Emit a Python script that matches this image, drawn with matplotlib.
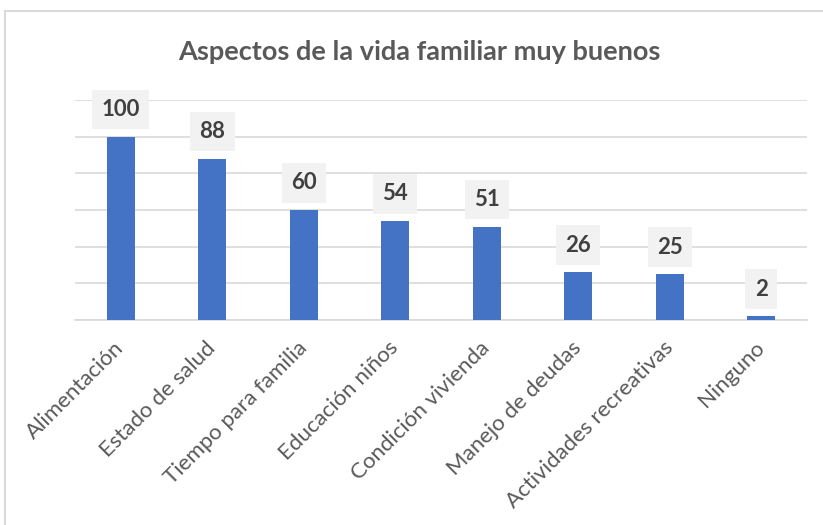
import numpy as np
import matplotlib.pyplot as plt
from matplotlib.patches import Rectangle

# Datos
categorias = ["Alimentación", "Estado de salud", "Tiempo para familia", "Educación niños",
              "Condición vivienda", "Manejo de deudas", "Actividades recreativas", "Ninguno"]
valores = [100, 88, 60, 54, 51, 26, 25, 2]
titulo = "Aspectos de la vida familiar muy buenos"

plt.rcParams['font.family'] = ['Lato', 'DejaVu Sans']

fig = plt.figure(figsize=(8.23, 5.25), dpi=100)
ax = fig.add_axes([75 / 823, 1 - 320 / 525, 732 / 823, 220 / 525])

# Marco gris del área del gráfico
fig.patches.append(Rectangle((4.5 / 823, -0.1), 1.2, 1.1 - 10.5 / 525, transform=fig.transFigure,
                             fill=False, edgecolor='#D9D9D9', linewidth=1.5))

x = np.arange(len(categorias))
ax.bar(x, valores, width=0.31, color='#4472C4', zorder=3)

ax.set_xlim(-0.5, len(categorias) - 0.5)
ax.set_ylim(0, 120)
ax.set_yticks(np.arange(0, 121, 20))
ax.yaxis.grid(True, color='#D9D9D9', linewidth=1.2, zorder=0)
ax.tick_params(axis='y', left=False, labelleft=False)
ax.tick_params(axis='x', bottom=False, length=0)
for s in ['top', 'right', 'left']:
    ax.spines[s].set_visible(False)
ax.spines['bottom'].set_color('#D9D9D9')
ax.spines['bottom'].set_linewidth(1.2)

ax.set_xticks(x)
ax.set_xticklabels(categorias, rotation=45, ha='right', va='center', rotation_mode='anchor',
                   fontsize=16, color='#595959')
for lbl in ax.get_xticklabels():
    lbl.set_y(-0.09)

for xi, v in zip(x, valores):
    ax.annotate(str(v), (xi, v), xytext=(0, 19.5), textcoords='offset points',
                ha='center', va='center', fontsize=16, fontweight='bold', color='#404040',
                bbox=dict(boxstyle='square,pad=0.42', facecolor='#F2F2F2', edgecolor='none'),
                zorder=4)

fig.text(0.51, 1 - 52 / 525, titulo, ha='center', va='center', fontsize=19.5,
         fontweight='bold', color='#595959')

fig.savefig('out.png', dpi=100)
